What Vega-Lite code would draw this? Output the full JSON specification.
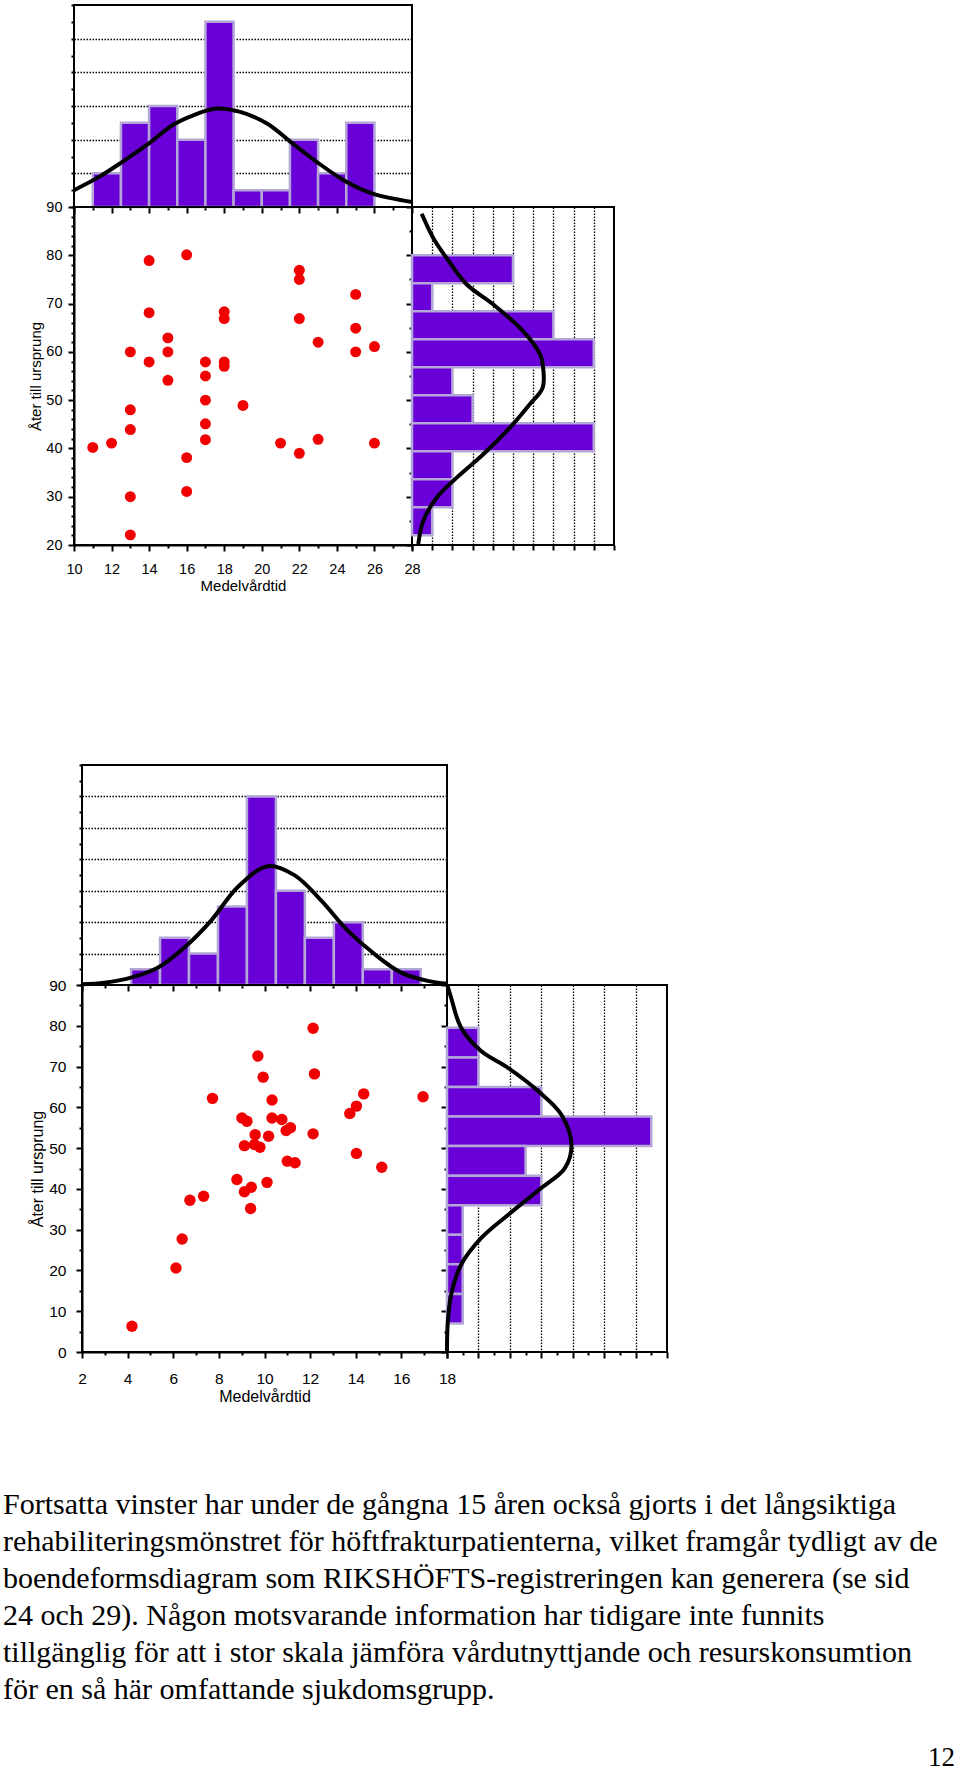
{
  "$schema": "https://vega.github.io/schema/vega-lite/v6.json",
  "background": "white",
  "padding": {"left": 3, "top": 3, "right": 0, "bottom": 0},
  "config": {
    "view": {"stroke": "black", "strokeWidth": 2},
    "axis": {
      "labelFont": "Liberation Sans", "titleFont": "Liberation Sans",
      "labelColor": "black", "titleColor": "black", "tickColor": "black",
      "domainColor": "black", "domainWidth": 2, "tickWidth": 2,
      "titleFontWeight": "normal", "labelOverlap": false, "labelFlush": false,
      "grid": false, "gridColor": "black", "gridDash": [1.5, 1.5], "gridWidth": 1.3
    }
  },
  "datasets": {
    "s1": [{"x":11,"y":40.2},{"x":12,"y":41.1},{"x":13,"y":60},{"x":13,"y":48},{"x":13,"y":43.9},{"x":13,"y":30},{"x":13,"y":22.1},{"x":14,"y":78.9},{"x":14,"y":68.1},{"x":14,"y":57.9},{"x":15,"y":62.9},{"x":15,"y":60},{"x":15,"y":54.1},{"x":16,"y":80.1},{"x":16,"y":38.1},{"x":16,"y":31.1},{"x":17,"y":57.9},{"x":17,"y":55},{"x":17,"y":50},{"x":17,"y":45.1},{"x":17,"y":41.8},{"x":18,"y":68.3},{"x":18,"y":66.9},{"x":18,"y":57.9},{"x":18,"y":57},{"x":19,"y":48.9},{"x":21,"y":41.1},{"x":22,"y":76.9},{"x":22,"y":75},{"x":22,"y":66.9},{"x":22,"y":39},{"x":23,"y":62},{"x":23,"y":41.9},{"x":25,"y":71.9},{"x":25,"y":64.9},{"x":25,"y":60},{"x":26,"y":61.1},{"x":26,"y":41.1}],
    "h1x": [{"x":11,"x2":12.5,"n":2},{"x":12.5,"x2":14,"n":5},{"x":14,"x2":15.5,"n":6},{"x":15.5,"x2":17,"n":4},{"x":17,"x2":18.5,"n":11},{"x":18.5,"x2":20,"n":1},{"x":20,"x2":21.5,"n":1},{"x":21.5,"x2":23,"n":4},{"x":23,"x2":24.5,"n":2},{"x":24.5,"x2":26,"n":5}],
    "c1x": [{"x":10,"n":1.0},{"x":11.38,"n":1.82},{"x":12.6,"n":2.7},{"x":13.9,"n":3.7},{"x":15.3,"n":4.9},{"x":16.35,"n":5.45},{"x":17.6,"n":5.85},{"x":18.85,"n":5.65},{"x":20.3,"n":4.95},{"x":21.5,"n":3.9},{"x":22.9,"n":2.7},{"x":24.5,"n":1.5},{"x":25.9,"n":0.8},{"x":28,"n":0.3}],
    "h1y": [{"y":74.2,"y2":80,"n":5},{"y":68.4,"y2":74.2,"n":1},{"y":62.6,"y2":68.4,"n":7},{"y":56.8,"y2":62.6,"n":9},{"y":51,"y2":56.8,"n":2},{"y":45.2,"y2":51,"n":3},{"y":39.4,"y2":45.2,"n":9},{"y":33.6,"y2":39.4,"n":2},{"y":27.8,"y2":33.6,"n":2},{"y":22,"y2":27.8,"n":1}],
    "c1y": [{"y":88.6,"n":0.48},{"y":83.6,"n":1.05},{"y":79.5,"n":1.7},{"y":74,"n":2.7},{"y":69.9,"n":4.0},{"y":64.3,"n":5.5},{"y":59.5,"n":6.34},{"y":57.5,"n":6.47},{"y":52.6,"n":6.47},{"y":49.2,"n":5.84},{"y":44.3,"n":4.85},{"y":38.8,"n":3.53},{"y":33.9,"n":2.2},{"y":29.8,"n":1.22},{"y":25,"n":0.56},{"y":20.2,"n":0.31}],
    "s2": [{"x":4.19,"y":6.3},{"x":6.12,"y":20.6},{"x":6.39,"y":27.7},{"x":6.73,"y":37.2},{"x":7.33,"y":38.2},{"x":7.72,"y":62.2},{"x":8.79,"y":42.3},{"x":9.01,"y":57.4},{"x":9.23,"y":56.6},{"x":9.12,"y":50.6},{"x":9.12,"y":39.3},{"x":9.42,"y":40.4},{"x":9.39,"y":35.2},{"x":9.71,"y":72.6},{"x":9.94,"y":67.4},{"x":9.59,"y":53.3},{"x":9.56,"y":50.9},{"x":9.8,"y":50.2},{"x":10.33,"y":61.8},{"x":10.33,"y":57.4},{"x":10.18,"y":52.9},{"x":10.11,"y":41.6},{"x":10.76,"y":57.0},{"x":11.14,"y":55.0},{"x":10.95,"y":54.3},{"x":11.0,"y":46.8},{"x":11.34,"y":46.4},{"x":12.13,"y":79.4},{"x":12.19,"y":68.2},{"x":12.13,"y":53.5},{"x":13.74,"y":58.5},{"x":14.03,"y":60.3},{"x":14.35,"y":63.3},{"x":14.03,"y":48.7},{"x":15.14,"y":45.3},{"x":16.95,"y":62.6}],
    "h2x": [{"x":4.15,"x2":5.42,"n":1},{"x":5.42,"x2":6.69,"n":3},{"x":6.69,"x2":7.96,"n":2},{"x":7.96,"x2":9.23,"n":5},{"x":9.23,"x2":10.5,"n":12},{"x":10.5,"x2":11.77,"n":6},{"x":11.77,"x2":13.04,"n":3},{"x":13.04,"x2":14.31,"n":4},{"x":14.31,"x2":15.58,"n":1},{"x":15.58,"x2":16.85,"n":1}],
    "c2x": [{"x":2,"n":0.05},{"x":2.98,"n":0.15},{"x":4.15,"n":0.47},{"x":5.32,"n":1.1},{"x":6.49,"n":2.39},{"x":7.66,"n":4.1},{"x":8.83,"n":6.24},{"x":10.14,"n":7.56},{"x":11.31,"n":6.99},{"x":12.48,"n":5.38},{"x":13.65,"n":3.46},{"x":14.82,"n":1.97},{"x":15.99,"n":0.79},{"x":17.16,"n":0.26},{"x":18,"n":0.08}],
    "h2y": [{"y":72.25,"y2":79.5,"n":2},{"y":65,"y2":72.25,"n":2},{"y":57.75,"y2":65,"n":6},{"y":50.5,"y2":57.75,"n":13},{"y":43.25,"y2":50.5,"n":5},{"y":36,"y2":43.25,"n":6},{"y":28.75,"y2":36,"n":1},{"y":21.5,"y2":28.75,"n":1},{"y":14.25,"y2":21.5,"n":1},{"y":7,"y2":14.25,"n":1}],
    "c2y": [{"y":90,"n":0.02},{"y":86.9,"n":0.26},{"y":79.5,"n":0.9},{"y":73.8,"n":2.17},{"y":69.7,"n":3.88},{"y":64,"n":5.8},{"y":58.2,"n":7.28},{"y":50.9,"n":7.92},{"y":45.1,"n":7.5},{"y":40.2,"n":6},{"y":33.6,"n":3.88},{"y":27.9,"n":2.17},{"y":21.4,"n":0.9},{"y":14,"n":0.26},{"y":6.6,"n":0.04},{"y":0,"n":0}],
    "txt": [
      {"line":1,"text":"Fortsatta vinster har under de gångna 15 åren också gjorts i det långsiktiga"},
      {"line":2,"text":"rehabiliteringsmönstret för höftfrakturpatienterna, vilket framgår tydligt av de"},
      {"line":3,"text":"boendeformsdiagram som RIKSHÖFTS-registreringen kan generera (se sid"},
      {"line":4,"text":"24 och 29). Någon motsvarande information har tidigare inte funnits"},
      {"line":5,"text":"tillgänglig för att i stor skala jämföra vårdutnyttjande och resurskonsumtion"},
      {"line":6,"text":"för en så här omfattande sjukdomsgrupp."}
    ],
    "page": [{"p":"12"}]
  },
  "vconcat": [
    {
      "vconcat": [
        {
          "concat": [
            {
              "width": 338, "height": 202,
              "encoding": {
                "x": {"field": "x", "type": "quantitative", "scale": {"domain": [10, 28], "nice": false, "zero": false},
                  "axis": {"orient": "bottom", "values": [10,11,12,13,14,15,16,17,18,19,20,21,22,23,24,25,26,27,28], "labels": false, "title": null, "domain": false,
                    "tickSize": {"condition": {"test": "datum.value % 2 === 0", "value": 6}, "value": 3}}},
                "y": {"field": "n", "type": "quantitative", "scale": {"domain": [0, 12], "nice": false},
                  "axis": {"values": [0,1,2,3,4,5,6,7,8,9,10,11,12], "labels": false, "title": null, "domain": false, "tickSize": 3, "grid": true,
                    "gridOpacity": {"condition": {"test": "datum.value % 2 === 0 && datum.value > 0 && datum.value < 12", "value": 1}, "value": 0}}}
              },
              "layer": [
                {
                  "data": {"name": "h1x"},
                  "mark": {"type": "rect", "fill": "#6a00d8", "stroke": "#b4a6d6", "strokeWidth": 2.5},
                  "encoding": {"x2": {"field": "x2"}, "y2": {"datum": 0}}
                },
                {
                  "data": {"name": "c1x"},
                  "mark": {"type": "line", "color": "black", "strokeWidth": 4, "interpolate": "catmull-rom"}
                }
              ]
            },
            {"width": 1, "height": 1, "view": {"stroke": null}, "data": {"values": []}, "mark": "point", "encoding": {}},
            {
              "width": 338, "height": 338,
              "data": {"name": "s1"},
              "mark": {"type": "circle", "size": 120, "color": "#f00000", "opacity": 1},
              "encoding": {
                "x": {"field": "x", "type": "quantitative", "scale": {"domain": [10, 28], "nice": false, "zero": false},
                  "axis": {"values": [10,11,12,13,14,15,16,17,18,19,20,21,22,23,24,25,26,27,28],
                    "labelExpr": "datum.value % 2 === 0 ? datum.label : ''",
                    "tickSize": {"condition": {"test": "datum.value % 2 === 0", "value": 6}, "value": 3},
                    "labelFontSize": 14.5, "labelPadding": 11.5, "title": "Medelvårdtid", "titleFontSize": 15, "titlePadding": 2}},
                "y": {"field": "y", "type": "quantitative", "scale": {"domain": [20, 90], "nice": false, "zero": false},
                  "axis": {"values": [20,22,24,26,28,30,32,34,36,38,40,42,44,46,48,50,52,54,56,58,60,62,64,66,68,70,72,74,76,78,80,82,84,86,88,90],
                    "labelExpr": "datum.value % 10 === 0 ? datum.label : ''",
                    "tickSize": {"condition": {"test": "datum.value % 10 === 0", "value": 6}, "value": 3},
                    "labelFontSize": 14.5, "labelPadding": 6, "title": "Åter till ursprung", "titleFontSize": 15, "titlePadding": 2}}
              }
            },
            {
              "width": 202, "height": 338,
              "encoding": {
                "y": {"field": "y", "type": "quantitative", "scale": {"domain": [20, 90], "nice": false, "zero": false},
                  "axis": {"orient": "left", "values": [20,25,30,35,40,45,50,55,60,65,70,75,80,85,90], "labels": false, "title": null, "domain": false,
                    "tickSize": {"condition": {"test": "datum.value % 10 === 0", "value": 6}, "value": 3}}},
                "x": {"field": "n", "type": "quantitative", "scale": {"domain": [0, 10], "nice": false},
                  "axis": {"orient": "bottom", "values": [0,1,2,3,4,5,6,7,8,9,10], "labels": false, "title": null, "domain": false, "tickSize": 5, "grid": true,
                    "gridOpacity": {"condition": {"test": "datum.value > 0 && datum.value < 10", "value": 1}, "value": 0}}}
              },
              "layer": [
                {
                  "data": {"name": "h1y"},
                  "mark": {"type": "rect", "fill": "#6a00d8", "stroke": "#b4a6d6", "strokeWidth": 2.5},
                  "encoding": {"y2": {"field": "y2"}, "x2": {"datum": 0}}
                },
                {
                  "data": {"name": "c1y"},
                  "mark": {"type": "line", "color": "black", "strokeWidth": 4, "interpolate": "catmull-rom"},
                  "encoding": {"order": {"field": "y"}}
                }
              ]
            }
          ],
          "columns": 2, "align": "each", "bounds": "flush", "spacing": 0
        },
        {
          "hconcat": [
            {"width": 1, "height": 1, "view": {"stroke": null}, "data": {"values": []}, "mark": "point", "encoding": {}},
            {
              "concat": [
                {
                  "width": 365, "height": 220,
                  "encoding": {
                    "x": {"field": "x", "type": "quantitative", "scale": {"domain": [2, 18], "nice": false, "zero": false},
                      "axis": {"orient": "bottom", "values": [2,3,4,5,6,7,8,9,10,11,12,13,14,15,16,17,18], "labels": false, "title": null, "domain": false,
                        "tickSize": {"condition": {"test": "datum.value % 2 === 0", "value": 6}, "value": 3}}},
                    "y": {"field": "n", "type": "quantitative", "scale": {"domain": [0, 14], "nice": false},
                      "axis": {"values": [0,1,2,3,4,5,6,7,8,9,10,11,12,13,14], "labels": false, "title": null, "domain": false, "tickSize": 3, "grid": true,
                        "gridOpacity": {"condition": {"test": "datum.value % 2 === 0 && datum.value > 0 && datum.value < 14", "value": 1}, "value": 0}}}
                  },
                  "layer": [
                    {
                      "data": {"name": "h2x"},
                      "mark": {"type": "rect", "fill": "#6a00d8", "stroke": "#b4a6d6", "strokeWidth": 2.5},
                      "encoding": {"x2": {"field": "x2"}, "y2": {"datum": 0}}
                    },
                    {
                      "data": {"name": "c2x"},
                      "mark": {"type": "line", "color": "black", "strokeWidth": 4, "interpolate": "catmull-rom"}
                    }
                  ]
                },
                {"width": 1, "height": 1, "view": {"stroke": null}, "data": {"values": []}, "mark": "point", "encoding": {}},
                {
                  "width": 365, "height": 367,
                  "data": {"name": "s2"},
                  "mark": {"type": "circle", "size": 130, "color": "#f00000", "opacity": 1},
                  "encoding": {
                    "x": {"field": "x", "type": "quantitative", "scale": {"domain": [2, 18], "nice": false, "zero": false},
                      "axis": {"values": [2,3,4,5,6,7,8,9,10,11,12,13,14,15,16,17,18],
                        "labelExpr": "datum.value % 2 === 0 ? datum.label : ''",
                        "tickSize": {"condition": {"test": "datum.value % 2 === 0", "value": 6}, "value": 3},
                        "labelFontSize": 15.5, "labelPadding": 13, "title": "Medelvårdtid", "titleFontSize": 16, "titlePadding": 2}},
                    "y": {"field": "y", "type": "quantitative", "scale": {"domain": [0, 90], "nice": false, "zero": false},
                      "axis": {"values": [0,5,10,15,20,25,30,35,40,45,50,55,60,65,70,75,80,85,90],
                        "labelExpr": "datum.value % 10 === 0 ? datum.label : ''",
                        "tickSize": {"condition": {"test": "datum.value % 10 === 0", "value": 6}, "value": 3},
                        "labelFontSize": 15.5, "labelPadding": 10, "title": "Åter till ursprung", "titleFontSize": 16, "titlePadding": 3}}
                  }
                },
                {
                  "width": 220, "height": 367,
                  "encoding": {
                    "y": {"field": "y", "type": "quantitative", "scale": {"domain": [0, 90], "nice": false, "zero": false},
                      "axis": {"orient": "left", "values": [0,5,10,15,20,25,30,35,40,45,50,55,60,65,70,75,80,85,90], "labels": false, "title": null, "domain": false,
                        "tickSize": {"condition": {"test": "datum.value % 10 === 0", "value": 6}, "value": 3}}},
                    "x": {"field": "n", "type": "quantitative", "scale": {"domain": [0, 14], "nice": false},
                      "axis": {"orient": "bottom", "values": [0,1,2,3,4,5,6,7,8,9,10,11,12,13,14], "labels": false, "title": null, "domain": false,
                        "tickSize": {"condition": {"test": "datum.value % 2 === 0", "value": 6}, "value": 3}, "grid": true,
                        "gridOpacity": {"condition": {"test": "datum.value % 2 === 0 && datum.value > 0 && datum.value < 14", "value": 1}, "value": 0}}}
                  },
                  "layer": [
                    {
                      "data": {"name": "h2y"},
                      "mark": {"type": "rect", "fill": "#6a00d8", "stroke": "#b4a6d6", "strokeWidth": 2.5},
                      "encoding": {"y2": {"field": "y2"}, "x2": {"datum": 0}}
                    },
                    {
                      "data": {"name": "c2y"},
                      "mark": {"type": "line", "color": "black", "strokeWidth": 4, "interpolate": "catmull-rom"},
                      "encoding": {"order": {"field": "y"}}
                    }
                  ]
                }
              ],
              "columns": 2, "align": "each", "bounds": "flush", "spacing": 0
            }
          ],
          "spacing": -47
        }
      ],
      "spacing": 169
    },
    {
      "width": 881, "height": 296,
      "view": {"stroke": null},
      "layer": [
        {
          "data": {"name": "txt"},
          "mark": {"type": "text", "align": "left", "baseline": "alphabetic", "font": "Liberation Serif", "fontSize": 30, "color": "black", "dx": -71},
          "encoding": {
            "x": {"datum": 0, "type": "quantitative", "scale": {"domain": [0, 1], "nice": false}, "axis": null},
            "y": {"field": "line", "type": "quantitative", "scale": {"domain": [0, 8], "nice": false, "reverse": true}, "axis": null},
            "text": {"field": "text"}
          }
        },
        {
          "data": {"name": "page"},
          "mark": {"type": "text", "align": "right", "baseline": "alphabetic", "font": "Liberation Serif", "fontSize": 27, "color": "black"},
          "encoding": {
            "x": {"datum": 1, "type": "quantitative"},
            "y": {"datum": 7.8, "type": "quantitative"},
            "text": {"field": "p"}
          }
        }
      ]
    }
  ],
  "spacing": 71
}
